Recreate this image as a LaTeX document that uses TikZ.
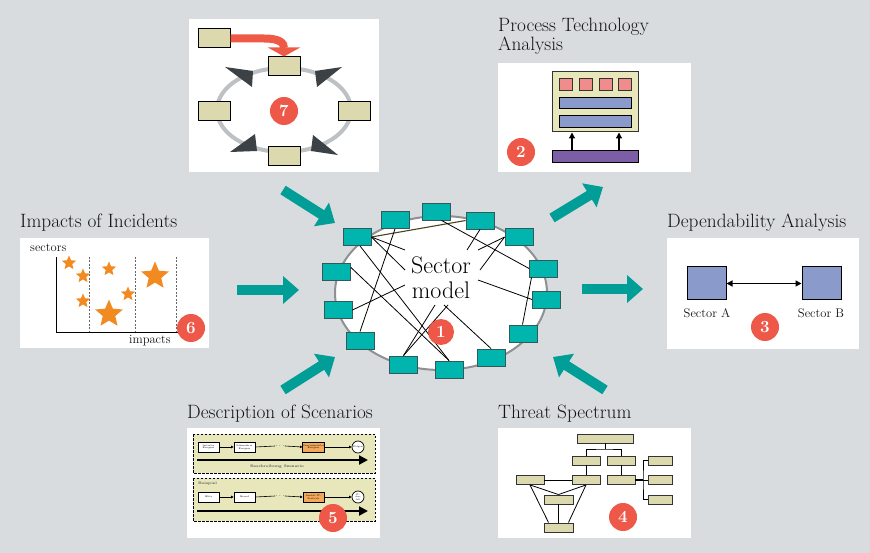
\documentclass[tikz,border=0pt]{standalone}
\usetikzlibrary{arrows.meta,shapes.geometric}
\definecolor{bggray}{HTML}{D9DCDF}
\definecolor{teal1}{HTML}{009E96}
\definecolor{sbfill}{HTML}{00B5AE}
\definecolor{sbdraw}{HTML}{34595A}
\definecolor{khaki}{HTML}{DDD9AE}
\definecolor{paleyel}{HTML}{E8E7BC}
\definecolor{badgered}{HTML}{EE5848}
\definecolor{pinkq}{HTML}{F08C8C}
\definecolor{bluebar}{HTML}{8A9BCB}
\definecolor{purplebar}{HTML}{7B5EA5}
\definecolor{starorange}{HTML}{F28A22}
\definecolor{ringgray}{HTML}{BDC1C3}
\definecolor{headgray}{HTML}{3B4144}
\definecolor{arrred}{HTML}{EF5A47}
\definecolor{scorange}{HTML}{F2A85A}
\definecolor{ellring}{HTML}{8E9193}
\definecolor{olive}{HTML}{4A4420}
\begin{document}
\begin{tikzpicture}[x=1pt,y=-1pt,
  panel/.style={fill=white,draw=none},
  ttl/.style={anchor=base west,inner sep=0,font=\fontsize{19.3}{22}\selectfont,text=black!92},
  lbl/.style={anchor=base,inner sep=0,font=\fontsize{12.5}{14}\selectfont,text=black!92},
  badge/.style={circle,fill=badgered,minimum size=28pt,inner sep=0,text=white,font=\fontsize{17}{17}\selectfont\bfseries},
  sbox/.style={draw=sbdraw,fill=sbfill,line width=0.9pt,minimum width=28pt,minimum height=17pt,inner sep=0},
  kbox/.style={draw=black,fill=khaki,line width=1pt,inner sep=0},
  tbox/.style={draw=black!80,fill=khaki,line width=0.9pt,inner sep=0},
  bigarrow/.style={draw=teal1,line width=10pt,-{Triangle[width=27pt,length=16pt]}},
  thin/.style={line width=0.8pt},
  starsm/.style={star,star points=5,star point ratio=2.2,fill=starorange,minimum size=15pt,inner sep=0},
  starlg/.style={star,star points=5,star point ratio=2.2,fill=starorange,minimum size=29pt,inner sep=0},
  scbox/.style={draw=black,fill=white,line width=0.7pt,minimum width=21pt,minimum height=10pt,inner sep=0,align=center,font=\fontsize{2.4}{2.8}\selectfont},
  sctxt/.style={inner sep=0,font=\fontsize{3.6}{4}\selectfont\bfseries,text=black!70},
  smallarr/.style={line width=0.6pt,-{Triangle[width=2.5pt,length=2.5pt]}}
]
\useasboundingbox (0,0) rectangle (870,553);
\fill[bggray] (0,0) rectangle (870,553);

% ---------- Panel 7 ----------
\fill[panel] (189,19) rectangle (379,172);
\draw[ringgray,line width=4pt] (284,110) ellipse [x radius=67,y radius=42];
\fill[headgray] (225,67) -- (253,71) -- (252,87) -- cycle;
\fill[headgray] (342,67) -- (315,71) -- (317,87) -- cycle;
\fill[headgray] (230,152) -- (257,151) -- (255,134) -- cycle;
\fill[headgray] (338,155) -- (311,151) -- (313,135) -- cycle;
\node[kbox,minimum width=32pt,minimum height=19pt] (k0) at (214,38.5) {};
\node[kbox,minimum width=32pt,minimum height=19pt] (k1) at (284,66.5) {};
\node[kbox,minimum width=32pt,minimum height=19pt] (k2) at (214,111.5) {};
\node[kbox,minimum width=32pt,minimum height=19pt] (k3) at (354,111.5) {};
\node[kbox,minimum width=32pt,minimum height=19pt] (k4) at (284,156.5) {};
\draw[arrred,line width=8pt,-{Triangle[width=32pt,length=9pt]}] (k0.east) -- (264,38.5) .. controls (280,38.5) and (284,43) .. (k1.north);
\node[badge] (b7) at (284,111) {7};

% ---------- Panel 2 ----------
\node[ttl] (t2a) at (498,32) {Process Technology};
\node[ttl] (t2b) at (498,51) {Analysis};
\fill[panel] (498,63) rectangle (691,172);
\node[draw=black!80,fill=paleyel,line width=1pt,minimum width=86pt,minimum height=60pt,inner sep=0] (ptbox) at (595,102) {};
\foreach \xx/\nm in {566/p1,585.5/p2,605.5/p3,624.5/p4}
  \node[draw=black!80,fill=pinkq,line width=0.9pt,minimum width=13pt,minimum height=12pt,inner sep=0] (\nm) at (\xx,84) {};
\node[draw=black,fill=bluebar,line width=0.9pt,minimum width=72pt,minimum height=11pt,inner sep=0] (bb1) at (595,102.5) {};
\node[draw=black,fill=bluebar,line width=0.9pt,minimum width=72pt,minimum height=12pt,inner sep=0] (bb2) at (595,121) {};
\node[draw=black,fill=purplebar,line width=0.9pt,minimum width=86pt,minimum height=12pt,inner sep=0] (pbar) at (595,156) {};
\draw[line width=1.3pt,-{Triangle[width=6pt,length=6pt]}] ([xshift=-23pt]pbar.north) -- ([xshift=-23pt]ptbox.south);
\draw[line width=1.3pt,-{Triangle[width=6pt,length=6pt]}] ([xshift=24pt]pbar.north) -- ([xshift=24pt]ptbox.south);
\node[badge] (b2) at (521,152) {2};

% ---------- Panel 6 ----------
\node[ttl] (t6) at (20,228) {Impacts of Incidents};
\fill[panel] (20,238) rectangle (209,348);
\node[lbl,anchor=base west] (sec) at (30,252) {sectors};
\node[lbl,anchor=base west] (imp) at (129,343) {impacts};
\draw[line width=1pt] (56,257) -- (56,332) -- (178,332);
\foreach \xx in {89,135,176}
  \draw[black!60,line width=0.6pt,dash pattern=on 2pt off 1.5pt] (\xx,257) -- (\xx,332);
\node[starsm] (st1) at (69,263) {};
\node[starsm] (st2) at (83,276) {};
\node[starsm] (st3) at (83,301) {};
\node[starsm] (st4) at (109,269) {};
\node[starsm] (st5) at (128,294) {};
\node[starlg] (st6) at (155,276) {};
\node[starlg] (st7) at (109,314) {};
\node[badge] (b6) at (191,328) {6};

% ---------- Panel 3 ----------
\node[ttl] (t3) at (667,228) {Dependability Analysis};
\fill[panel] (667,238) rectangle (859,349);
\node[draw=black,fill=bluebar,line width=1pt,minimum width=39pt,minimum height=33pt,inner sep=0] (sa) at (706.5,283.5) {};
\node[draw=black,fill=bluebar,line width=1pt,minimum width=39pt,minimum height=33pt,inner sep=0] (sb) at (821.5,283.5) {};
\draw[line width=1.3pt,{Triangle[width=6pt,length=6pt]}-{Triangle[width=6pt,length=6pt]}] (sa.east) -- (sb.west);
\node[lbl] (la) at (707,318) {Sector A};
\node[lbl] (lb) at (821,318) {Sector B};
\node[badge] (b3) at (765,327) {3};

% ---------- Panel 5 ----------
\node[ttl] (t5) at (187,418) {Description of Scenarios};
\fill[panel] (187,428) rectangle (380,538);
\draw[fill=paleyel,line width=0.8pt,dash pattern=on 2.5pt off 1.5pt] (193,434) rectangle (375,473);
\draw[fill=paleyel,line width=0.8pt,dash pattern=on 2.5pt off 1.5pt] (193,478) rectangle (375,521);
\node[scbox] (e1) at (208.5,447) {Initiales\\Ereignis};
\node[scbox] (e2) at (244.5,447) {Sekund\"ares\\Ereignis};
\node[inner sep=0,font=\fontsize{6}{6}\selectfont] (d1) at (280,446) {$\cdots$};
\node[scbox,fill=scorange] (e3) at (313.5,447) {Unerw\"unschtes\\Ereignis};
\node[circle,draw=black,fill=white,line width=0.7pt,minimum size=12pt,inner sep=0,font=\fontsize{2.4}{2.8}\selectfont] (e4) at (358,447) {Folgen};
\draw[smallarr] (e1.east) -- (e2.west);
\draw[line width=0.6pt] (e2.east) -- (d1.west);
\draw[smallarr] (d1.east) -- (e3.west);
\draw[smallarr] (e3.east) -- (e4.west);
\coordinate (ar1s) at (197,460);
\coordinate (ar1e) at (368,460);
\draw[line width=2.2pt,-{Triangle[width=9pt,length=9pt]}] (ar1s) -- (ar1e);
\node[sctxt] (bs) at (277,466.5) {Beschreibung Szenario};
\node[sctxt,anchor=west] (bsp) at (198,484) {Beispiel};
\node[scbox] (f1) at (208.5,497) {Blitz};
\node[scbox] (f2) at (244.5,497) {Brand};
\node[inner sep=0,font=\fontsize{6}{6}\selectfont] (d2) at (280,496) {$\cdots$};
\node[scbox,fill=scorange] (f3) at (313.5,497) {Ausfall IT-\\Zentrale};
\node[circle,draw=black,fill=white,line width=0.7pt,minimum size=12pt,inner sep=0,align=center,font=\fontsize{2.2}{2.5}\selectfont] (f4) at (358,497) {IT-\\Aus-\\fall};
\draw[smallarr] (f1.east) -- (f2.west);
\draw[line width=0.6pt] (f2.east) -- (d2.west);
\draw[smallarr] (d2.east) -- (f3.west);
\draw[smallarr] (f3.east) -- (f4.west);
\coordinate (ar2s) at (197,511);
\coordinate (ar2e) at (368,511);
\draw[line width=2.2pt,-{Triangle[width=9pt,length=9pt]}] (ar2s) -- (ar2e);
\node[badge] (b5) at (333,518) {5};

% ---------- Panel 4 ----------
\node[ttl] (t4) at (498,418) {Threat Spectrum};
\fill[panel] (498,428) rectangle (691,538);
\node[tbox,minimum width=56pt,minimum height=9pt] (q0) at (605,438.5) {};
\node[tbox,minimum width=28pt,minimum height=9pt] (q1) at (586,460.5) {};
\node[tbox,minimum width=28pt,minimum height=9pt] (q2) at (621,460.5) {};
\node[tbox,minimum width=28pt,minimum height=9pt] (q3) at (530,480) {};
\node[tbox,minimum width=28pt,minimum height=9pt] (q4) at (586,480) {};
\node[tbox,minimum width=28pt,minimum height=9pt] (q5) at (621,480) {};
\node[tbox,minimum width=24pt,minimum height=9pt] (r1) at (660,460.5) {};
\node[tbox,minimum width=24pt,minimum height=9pt] (r2) at (660,480) {};
\node[tbox,minimum width=24pt,minimum height=9pt] (r3) at (660,499.5) {};
\node[tbox,minimum width=29pt,minimum height=9pt] (l1) at (558.5,499.5) {};
\node[tbox,minimum width=29pt,minimum height=9pt] (l2) at (558.5,527.5) {};
\coordinate (qj) at (605,449);
\coordinate (rj) at (643,480);
\draw[thin] (q0.south) -- (qj);
\draw[thin] (q1.north) |- (qj) -| (q2.north);
\draw[thin] (q1.south) -- (q4.north);
\draw[thin] (q2.south) -- (q5.north);
\draw[thin] (q3.east) -- (q4.west);
\draw[line width=2.2pt] (q5.east) -- (rj);
\draw[thin] (r1.west) -| (rj) |- (r3.west);
\draw[thin] (rj) -- (r2.west);
\draw[thin] (q3.south) -- (l1.north);
\draw[thin] (q3.south) -- ([xshift=5pt]l2.north west);
\draw[thin] (q4.south) -- (l1.north);
\draw[thin] (q4.south) -- ([xshift=-5pt]l2.north east);
\draw[thin] (l1.south) -- (l2.north);
\node[badge] (b4) at (623,517) {4};

% ---------- Center ----------
\draw[ellring,fill=white,line width=2pt] (441,293) ellipse [x radius=106,y radius=77];
\node[inner sep=0,align=center,font=\fontsize{24}{25}\selectfont] (sm) at (441,277.5) {Sector\\model};
\node[sbox] (s1) at (436.5,211.5) {};
\node[sbox] (s2) at (395,220) {};
\node[sbox] (s3) at (480,220.5) {};
\node[sbox] (s4) at (357,237) {};
\node[sbox] (s5) at (519,237) {};
\node[sbox] (s6) at (336.5,271.5) {};
\node[sbox] (s7) at (543.5,268.5) {};
\node[sbox] (s8) at (546.5,299.5) {};
\node[sbox] (s9) at (338,310) {};
\node[sbox] (s10) at (523.5,333.5) {};
\node[sbox] (s11) at (360,340.5) {};
\node[sbox] (s12) at (491,357.5) {};
\node[sbox] (s13) at (403.5,364.5) {};
\node[sbox] (s14) at (449,369.5) {};
\coordinate (c1) at (405,250);
\coordinate (c2) at (405,270);
\coordinate (c3) at (405,285);
\coordinate (c4) at (467,250);
\coordinate (c5) at (478,250);
\coordinate (c6) at (480,270);
\coordinate (c7) at (478,280);
\coordinate (c8) at (435,305);
\coordinate (c9) at (448,305);
\coordinate (c10) at (444,305);
\draw[olive,line width=1.1pt] (s4.east) -- (s3.west);
\draw[thin] (s4.east) -- (c1);
\draw[thin] (s4.east) -- (c2);
\draw[thin] ([xshift=3pt]s4.south) -- (s14.north);
\draw[thin] ([yshift=4pt]s6.east) -- (s14.north);
\draw[thin] (s2.south) -- (s11.north);
\draw[thin] (s9.east) -- (c3);
\draw[thin] ([xshift=5pt]s1.south) -- (s7.west);
\draw[thin] (s3.south) -- (c4);
\draw[thin] (s5.west) -- (c5);
\draw[thin] (s5.west) -- (c6);
\draw[thin] (c7) -- (s8.west);
\draw[thin] ([xshift=-12pt]s7.south) -- ([xshift=-1pt]s10.north);
\draw[thin] (c8) -- (s13.north);
\draw[thin] (c9) -- (s13.north);
\draw[thin] (c10) -- (s12.north);
\node[badge,minimum size=26pt] (b1) at (441,332) {1};

% ---------- Big arrows ----------
\coordinate (a1s) at (283,190); \coordinate (a1e) at (335,223);
\coordinate (a2s) at (552,218); \coordinate (a2e) at (603,187);
\coordinate (a3s) at (237,290); \coordinate (a3e) at (299,290);
\coordinate (a4s) at (582,289); \coordinate (a4e) at (643,289);
\coordinate (a5s) at (283,390); \coordinate (a5e) at (335,357);
\coordinate (a6s) at (605,390); \coordinate (a6e) at (553,357);
\draw[bigarrow] (a1s) -- (a1e);
\draw[bigarrow] (a2s) -- (a2e);
\draw[bigarrow] (a3s) -- (a3e);
\draw[bigarrow] (a4s) -- (a4e);
\draw[bigarrow] (a5s) -- (a5e);
\draw[bigarrow] (a6s) -- (a6e);
\end{tikzpicture}
\end{document}
